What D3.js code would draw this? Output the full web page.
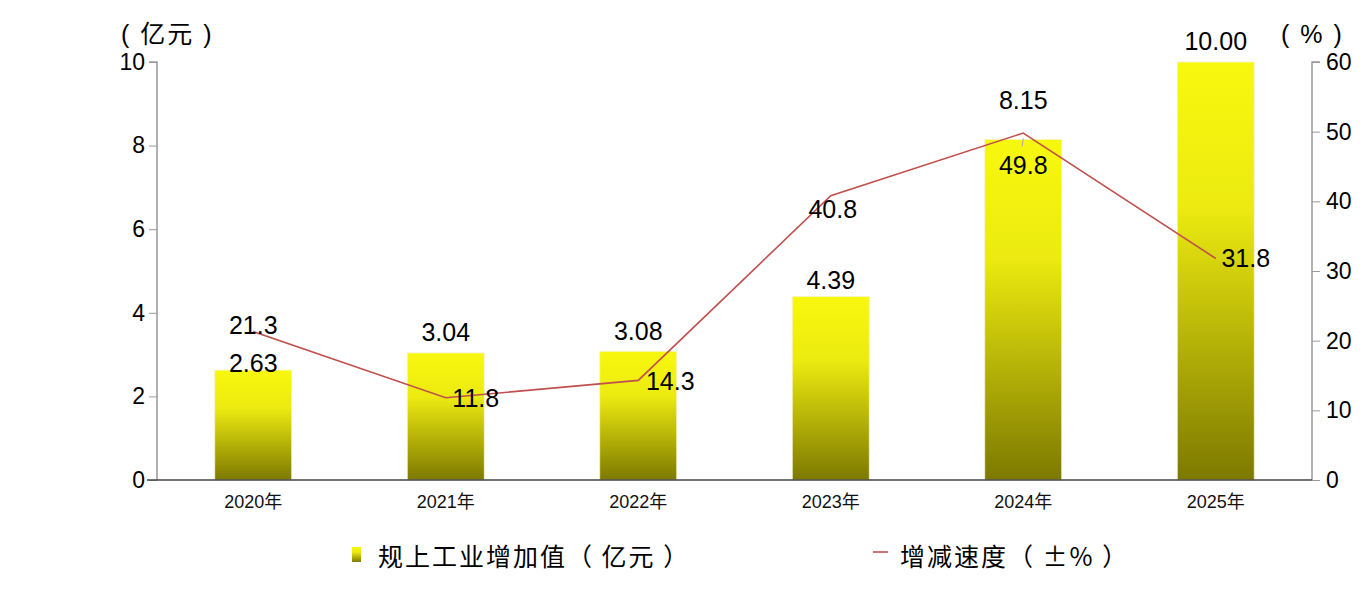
<!DOCTYPE html>
<html><head><meta charset="utf-8">
<script src="https://cdn.jsdelivr.net/npm/d3@7/dist/d3.min.js"></script>
<style>
html,body{margin:0;padding:0;background:#fff;}
svg{display:block;font-family:"Liberation Sans",Arial,"Noto Sans CJK SC",sans-serif;}
text{white-space:pre;}
</style></head>
<body><svg id="c" width="1366" height="598"></svg>
<script>
const categories = ["2020年","2021年","2022年","2023年","2024年","2025年"];
const valueAdded = [2.63, 3.04, 3.08, 4.39, 8.15, 10.00];
const growthRate = [21.3, 11.8, 14.3, 40.8, 49.8, 31.8];
const leftTicks = [0, 2, 4, 6, 8, 10];
const rightTicks = [0, 10, 20, 30, 40, 50, 60];
// label offsets (dx, dy of label centre relative to the mark)
const barLabelOffsets = [[0,-7],[0,-21],[0,-20],[0,-16],[0,-39],[0,-21]];
const lineLabelOffsets = [[0,-7],[30,0],[32,1],[2,13],[0,32],[30,0]];

const svg = d3.select("#c");
const L = 157, R = 1312, T = 62, B = 480;
const x = d3.scaleBand().domain(categories).range([L, R]).paddingInner(0.6).paddingOuter(0.3);
const yL = d3.scaleLinear().domain([0, 10]).range([B, T]);
const yR = d3.scaleLinear().domain([0, 60]).range([B, T]);

const defs = svg.append("defs");
const g = defs.append("linearGradient").attr("id","barGrad").attr("x1",0).attr("y1",0).attr("x2",0).attr("y2",1);
g.append("stop").attr("offset","0%").attr("stop-color","#f8f80e");
g.append("stop").attr("offset","35%").attr("stop-color","#ecea10");
g.append("stop").attr("offset","100%").attr("stop-color","#7d7900");

// bars
svg.append("g").selectAll("rect").data(valueAdded).join("rect")
  .attr("x", (d,i) => x(categories[i]))
  .attr("y", d => yL(d))
  .attr("width", x.bandwidth())
  .attr("height", d => yL(0) - yL(d))
  .attr("fill", "url(#barGrad)")
  .attr("stroke", "#f4f4d0").attr("stroke-width", 0.8);

// left axis
const axL = svg.append("g").attr("transform", `translate(${L},0)`)
  .call(d3.axisLeft(yL).tickValues(leftTicks).tickSize(8).tickPadding(4).tickFormat(d3.format("d")));
axL.select(".domain").attr("stroke","#999").attr("stroke-width",1.5).attr("d", `M-8,${T}H0V${B}`);
axL.selectAll(".tick line").attr("stroke","#999");
axL.selectAll(".tick text").attr("font-size",23).attr("fill","#000").attr("font-family","Liberation Sans, Arial, sans-serif");

// right axis
const axR = svg.append("g").attr("transform", `translate(${R},0)`)
  .call(d3.axisRight(yR).tickValues(rightTicks).tickSize(8).tickPadding(6).tickFormat(d3.format("d")));
axR.select(".domain").attr("stroke","#999").attr("stroke-width",1.5).attr("d", `M8,${T}H0V${B}`);
axR.selectAll(".tick line").attr("stroke","#999");
axR.selectAll(".tick text").attr("font-size",23).attr("fill","#000").attr("font-family","Liberation Sans, Arial, sans-serif");

// x axis
const axX = svg.append("g").attr("transform", `translate(0,${B})`)
  .call(d3.axisBottom(x).tickSize(0).tickPadding(15));
axX.select(".domain").attr("stroke","#444").attr("stroke-width",1.5).attr("d", `M${L-10},0H${R}`);
axX.selectAll(".tick text").attr("font-size",18).attr("fill","#111").attr("font-family","Liberation Sans, Arial, 'Noto Sans CJK SC', sans-serif");

// line
const cx = i => x(categories[i]) + x.bandwidth()/2;
const line = d3.line().x((d,i) => cx(i)).y(d => yR(d));
svg.append("path").datum(growthRate).attr("d", line)
  .attr("fill","none").attr("stroke","#c0504d").attr("stroke-width",1.6);

// leader line for 2024
svg.append("line").attr("x1", cx(4)).attr("y1", yL(valueAdded[4])-1).attr("x2", cx(4)-1).attr("y2", yL(valueAdded[4])+7)
  .attr("stroke","#aaa").attr("stroke-width",1);

// bar labels
svg.append("g").selectAll("text").data(valueAdded).join("text")
  .attr("x", (d,i) => cx(i) + barLabelOffsets[i][0])
  .attr("y", (d,i) => yL(d) + barLabelOffsets[i][1])
  .attr("text-anchor","middle").attr("dominant-baseline","central")
  .attr("font-size",25).attr("fill","#000")
  .text(d => d.toFixed(2));

// line labels
svg.append("g").selectAll("text").data(growthRate).join("text")
  .attr("x", (d,i) => cx(i) + lineLabelOffsets[i][0])
  .attr("y", (d,i) => yR(d) + lineLabelOffsets[i][1])
  .attr("text-anchor","middle").attr("dominant-baseline","central")
  .attr("font-size",25).attr("fill","#000")
  .text(d => d.toFixed(1));

// units
svg.append("text").attr("x",121).attr("y",34).attr("dominant-baseline","central")
  .attr("font-size",25).attr("letter-spacing",2).text("( 亿元 )");
svg.append("text").attr("x",1281).attr("y",34).attr("dominant-baseline","central")
  .attr("font-size",25).attr("letter-spacing",2).text("( % )");

// legend
const lg = svg.append("g");
lg.append("rect").attr("x",352).attr("y",547).attr("width",9).attr("height",15).attr("fill","url(#barGrad)");
lg.append("text").attr("x",378).attr("y",555).attr("dominant-baseline","central")
  .attr("font-size",25).attr("letter-spacing",2).attr("font-family","'Noto Sans CJK SC', sans-serif").text("规上工业增加值（ 亿元 ）");
lg.append("line").attr("x1",873).attr("x2",888).attr("y1",552).attr("y2",552).attr("stroke","#c0504d").attr("stroke-width",1.6);
lg.append("text").attr("x",900).attr("y",555).attr("dominant-baseline","central")
  .attr("font-size",25).attr("letter-spacing",2).attr("font-family","'Noto Sans CJK SC', sans-serif").text("增减速度（ ±% ）");
</script></body></html>
